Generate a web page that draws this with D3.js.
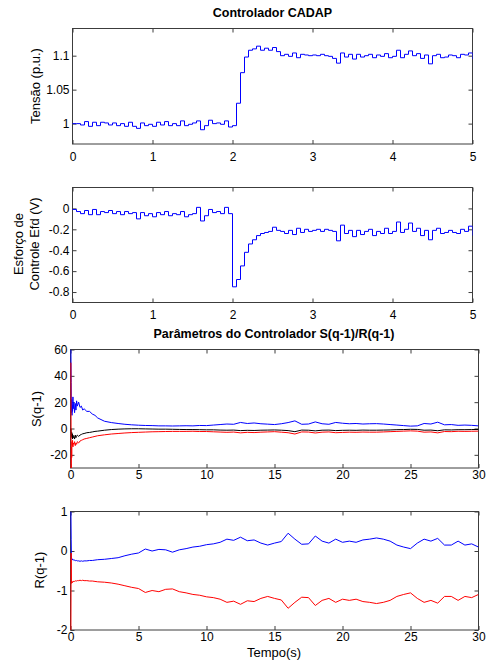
<!DOCTYPE html>
<html>
<head>
<meta charset="utf-8">
<script src="https://cdn.jsdelivr.net/npm/d3@7"></script>
<style>
    body { margin: 0; background: #fff; }
    text { font-family: "Liberation Sans", Arial, sans-serif; fill: #000; }
    .frame { fill: none; stroke: #3c3c3c; stroke-width: 1; }
    .tick-line { stroke: #3c3c3c; stroke-width: 1; }
</style>
</head>
<body>
<div id="chart"></div>
<script>
// ---- data ----

// top two panels: time 0..5 s, one sample every 0.05 s
let tStep = [0, 0.05, 0.1, 0.15, 0.2, 0.25, 0.3, 0.35, 0.4, 0.45, 0.5, 0.55, 0.6, 0.65, 0.7, 0.75, 0.8, 0.85, 0.9, 0.95,
    1.0, 1.05, 1.1, 1.15, 1.2, 1.25, 1.3, 1.35, 1.4, 1.45, 1.5, 1.55, 1.6, 1.65, 1.7, 1.75, 1.8, 1.85, 1.9, 1.95,
    2.0, 2.05, 2.1, 2.15, 2.2, 2.25, 2.3, 2.35, 2.4, 2.45, 2.5, 2.55, 2.6, 2.65, 2.7, 2.75, 2.8, 2.85, 2.9, 2.95,
    3.0, 3.05, 3.1, 3.15, 3.2, 3.25, 3.3, 3.35, 3.4, 3.45, 3.5, 3.55, 3.6, 3.65, 3.7, 3.75, 3.8, 3.85, 3.9, 3.95,
    4.0, 4.05, 4.1, 4.15, 4.2, 4.25, 4.3, 4.35, 4.4, 4.45, 4.5, 4.55, 4.6, 4.65, 4.7, 4.75, 4.8, 4.85, 4.9, 4.95, 5.0];

let tensao = [1.000, 1.000, 0.998, 1.003, 0.996, 1.002, 0.997, 1.002, 1.001, 0.998, 1.001, 0.997, 1.000, 0.996, 1.002, 0.996, 0.993, 1.001, 0.997, 0.999,
    0.996, 1.002, 0.998, 1.003, 0.997, 1.000, 0.997, 1.004, 0.997, 0.999, 1.001, 1.004, 0.991, 0.997, 1.005, 1.000, 1.001, 0.999, 1.004, 0.995,
    0.997, 1.030, 1.075, 1.098, 1.108, 1.110, 1.114, 1.108, 1.111, 1.108, 1.112, 1.106, 1.100, 1.102, 1.099, 1.104, 1.097, 1.102, 1.101, 1.100,
    1.101, 1.100, 1.102, 1.100, 1.099, 1.096, 1.089, 1.104, 1.098, 1.102, 1.095, 1.102, 1.098, 1.100, 1.102, 1.097, 1.101, 1.099, 1.103, 1.097,
    1.099, 1.108, 1.097, 1.102, 1.107, 1.100, 1.103, 1.096, 1.101, 1.088, 1.100, 1.102, 1.097, 1.098, 1.101, 1.100, 1.097, 1.102, 1.101, 1.104, 1.095];

let efd = [-0.01, -0.03, -0.05, -0.02, -0.06, -0.01, -0.06, -0.03, -0.04, -0.02, -0.05, -0.03, -0.06, -0.03, -0.05, -0.04, -0.10, -0.04, -0.07, -0.05,
    -0.08, -0.04, -0.06, -0.03, -0.07, -0.05, -0.06, -0.03, -0.08, -0.06, -0.05, 0.01, -0.12, -0.07, -0.01, -0.04, -0.03, -0.05, 0.01, -0.05,
    -0.75, -0.68, -0.55, -0.42, -0.34, -0.30, -0.26, -0.24, -0.23, -0.22, -0.18, -0.21, -0.22, -0.24, -0.21, -0.25, -0.19, -0.23, -0.20, -0.22,
    -0.21, -0.20, -0.22, -0.20, -0.21, -0.22, -0.31, -0.16, -0.24, -0.21, -0.27, -0.21, -0.25, -0.22, -0.20, -0.26, -0.22, -0.24, -0.19, -0.24,
    -0.22, -0.13, -0.23, -0.20, -0.14, -0.22, -0.19, -0.26, -0.21, -0.30, -0.21, -0.19, -0.24, -0.23, -0.21, -0.23, -0.24, -0.20, -0.22, -0.17, -0.26];

// bottom two panels: time 0..30 s, dense at the start
let tParam = [0.03, 0.05, 0.07, 0.09, 0.11, 0.13, 0.15, 0.18, 0.2, 0.25, 0.3, 0.35, 0.4, 0.45, 0.5, 0.6, 0.7, 0.8, 0.9, 1.0,
    1.2, 1.4, 1.6, 1.8, 2.0, 2.5,
    3.0, 3.5, 4.0, 4.5, 5.0, 5.5, 6.0, 6.5, 7.0, 7.5, 8.0, 8.5, 9.0, 9.5, 10.0, 10.5, 11.0, 11.5, 12.0, 12.5,
    13.0, 13.5, 14.0, 14.5, 15.0, 15.5, 16.0, 16.5, 17.0, 17.5, 18.0, 18.5, 19.0, 19.5, 20.0, 20.5, 21.0, 21.5,
    22.0, 22.5, 23.0, 23.5, 24.0, 24.5, 25.0, 25.5, 26.0, 26.5, 27.0, 27.5, 28.0, 28.5, 29.0, 29.5, 30.0];

let sBlue = [60, 35, 12, 22, 10, 18, 13, 24, 15, 20, 12, 19, 14, 21, 17, 20, 16, 17, 14, 15,
    13, 13, 11, 10, 8, 5.5,
    4.5, 3.8, 3.2, 2.8, 2.5, 2.3, 2.2, 2.0, 2.0, 1.9, 2.0, 2.1, 2.0, 2.3, 2.2, 2.6, 3.0, 3.4, 3.2, 4.6,
    3.8, 4.2, 3.6, 3.3, 3.0, 3.6, 4.5, 5.8, 3.2, 3.4, 5.0, 3.6, 3.2, 4.6, 4.0, 3.6, 3.8, 3.4,
    3.6, 3.7, 3.4, 3.0, 2.6, 2.2, 1.8, 2.0, 3.8, 3.4, 4.8, 2.8, 3.0, 2.4, 2.6, 2.4, 2.0];

let sBlack = [0, -2, -6, -3, -7, -4, -8, -5, -7, -6, -8, -5, -7, -6, -5, -6, -5, -4.5, -4, -3.8,
    -3.2, -3, -2.6, -2.2, -2, -1.3,
    -0.8, -0.5, -0.3, -0.2, -0.2, -0.3, -0.4, -0.5, -0.5, -0.6, -0.7, -0.8, -0.8, -0.9, -1.0, -1.0, -1.2, -1.3, -1.2, -1.6,
    -1.4, -1.5, -1.3, -1.2, -1.1, -1.3, -1.6, -2.4, -1.2, -1.3, -1.8, -1.3, -1.2, -1.6, -1.4, -1.3, -1.4, -1.2,
    -1.3, -1.3, -1.2, -1.1, -0.9, -0.8, -0.6, -0.7, -1.3, -1.2, -1.7, -1.0, -1.1, -0.9, -0.9, -0.8, -0.7];

let sRed = [50, -30, -14, -22, -10, -13, -9, -14, -11, -12, -10, -13, -11, -12, -10, -11, -9.5, -9, -8.5, -8,
    -7.5, -7, -6.5, -6, -5.5, -4.8,
    -4.2, -3.8, -3.4, -3.1, -2.9, -2.7, -2.5, -2.4, -2.3, -2.2, -2.2, -2.2, -2.1, -2.3, -2.3, -2.5, -2.7, -2.9, -2.7, -3.3,
    -2.9, -3.1, -2.8, -2.6, -2.4, -2.8, -3.2, -4.2, -2.6, -2.7, -3.4, -2.8, -2.6, -3.2, -3.0, -2.8, -2.9, -2.7,
    -2.8, -2.8, -2.6, -2.4, -2.2, -2.0, -1.8, -2.0, -2.8, -2.6, -3.3, -2.3, -2.4, -2.1, -2.2, -2.1, -2.0];

let rBlue = [1.0, 0.3, -0.18, -0.2, -0.2, -0.22, -0.2, -0.23, -0.22, -0.24, -0.23, -0.24, -0.25, -0.24, -0.25, -0.25, -0.26, -0.25, -0.26, -0.25,
    -0.25, -0.24, -0.24, -0.23, -0.22, -0.21,
    -0.19, -0.17, -0.12, -0.08, -0.05, 0.05, 0.0, 0.04, 0.03, -0.03, 0.03, 0.06, 0.1, 0.12, 0.16, 0.18, 0.22, 0.3, 0.27, 0.35,
    0.26, 0.28, 0.2, 0.15, 0.2, 0.24, 0.45, 0.3, 0.17, 0.18, 0.38, 0.25, 0.2, 0.3, 0.22, 0.25, 0.22, 0.28,
    0.3, 0.33, 0.3, 0.25, 0.15, 0.1, 0.06, 0.2, 0.3, 0.25, 0.32, 0.15, 0.15, 0.25, 0.15, 0.18, 0.1];

let rRed = [-2.0, -0.05, -0.82, -0.8, -0.79, -0.78, -0.8, -0.77, -0.78, -0.76, -0.77, -0.76, -0.75, -0.76, -0.75, -0.75, -0.74, -0.75, -0.74, -0.75,
    -0.75, -0.76, -0.76, -0.77, -0.78, -0.79,
    -0.81, -0.84, -0.88, -0.92, -0.95, -1.05, -1.0, -1.03, -0.97, -0.96, -1.03, -1.06, -1.1, -1.12, -1.16, -1.18, -1.22, -1.3, -1.27, -1.35,
    -1.26, -1.28, -1.2, -1.15, -1.2, -1.24, -1.45, -1.3, -1.17, -1.18, -1.38, -1.25, -1.2, -1.3, -1.22, -1.25, -1.22, -1.28,
    -1.3, -1.33, -1.3, -1.25, -1.15, -1.1, -1.06, -1.2, -1.3, -1.25, -1.32, -1.15, -1.15, -1.25, -1.15, -1.18, -1.1];

let ticksX1 = [0, 1, 2, 3, 4, 5];
let ticksX2 = [0, 5, 10, 15, 20, 25, 30];
let ticksTensao = [1, 1.05, 1.1];
let ticksEfd = [0, -0.2, -0.4, -0.6, -0.8];
let ticksS = [-20, 0, 20, 40, 60];
let ticksR = [-2, -1, 0, 1];

// ---- drawing ----
let width = 488, height = 666;
let svg = d3.select("#chart").append("svg")
    .attr("width", width)
    .attr("height", height);

let panelId = 0;

/**
 * Draws one MATLAB-like box axis with inward ticks on all four sides
 * xPad / yPad: gap between the frame and the tick labels
 */
function drawPanel(box, xDomain, yDomain, xTicks, yTicks, series, curve, xPad, yPad) {
    panelId++;
    let x = d3.scaleLinear().domain(xDomain).range([box.left, box.right]);
    let y = d3.scaleLinear().domain(yDomain).range([box.bottom, box.top]);
    let g = svg.append("g");

    // axes: bottom/left carry labels, top/right only ticks (all inward)
    let tl = 4;
    let fmt = d => String(d);
    g.append("g").attr("transform", `translate(0,${box.bottom})`)
        .call(d3.axisBottom(x).tickValues(xTicks).tickSize(-tl).tickPadding(xPad).tickFormat(fmt));
    g.append("g").attr("transform", `translate(0,${box.top})`)
        .call(d3.axisTop(x).tickValues(xTicks).tickSize(-tl).tickFormat(""));
    g.append("g").attr("transform", `translate(${box.left},0)`)
        .call(d3.axisLeft(y).tickValues(yTicks).tickSize(-tl).tickPadding(yPad).tickFormat(fmt));
    g.append("g").attr("transform", `translate(${box.right},0)`)
        .call(d3.axisRight(y).tickValues(yTicks).tickSize(-tl).tickFormat(""));

    g.selectAll(".domain").remove();
    g.selectAll(".tick line").attr("class", "tick-line");
    g.selectAll(".tick text")
        .style("font-size", "12px")
        .style("font-family", "'Liberation Sans', Arial, sans-serif")
        .attr("fill", "#000");

    g.append("rect").attr("class", "frame")
        .attr("x", box.left).attr("y", box.top)
        .attr("width", box.right - box.left).attr("height", box.bottom - box.top);

    // lines go on top of the frame, like matlab does
    g.append("clipPath").attr("id", "clip" + panelId)
        .append("rect")
        .attr("x", box.left - 1).attr("y", box.top)
        .attr("width", box.right - box.left + 1).attr("height", box.bottom - box.top);

    let line = d3.line()
        .x(d => x(d[0]))
        .y(d => y(d[1]))
        .curve(curve);

    series.forEach(s => {
        g.append("path")
            .datum(s.t.map((t, i) => [t, s.v[i]]))
            .attr("clip-path", "url(#clip" + panelId + ")")
            .attr("fill", "none")
            .attr("stroke", s.color)
            .attr("stroke-width", 1)
            .attr("d", line);
    });
}

let box1 = {left: 72.5, right: 472.5, top: 28.5, bottom: 144};
let box2 = {left: 72.5, right: 472.5, top: 187.5, bottom: 302.5};
let box3 = {left: 70.5, right: 478.5, top: 349.5, bottom: 468};
let box4 = {left: 70.5, right: 478.5, top: 511.5, bottom: 630};

drawPanel(box1, [0, 5], [0.97, 1.14], ticksX1, ticksTensao,
    [{t: tStep, v: tensao, color: "#0000ff"}], d3.curveStepAfter, 8, 3);
drawPanel(box2, [0, 5], [-0.9, 0.2], ticksX1, ticksEfd,
    [{t: tStep, v: efd, color: "#0000ff"}], d3.curveStepAfter, 8, 3);
drawPanel(box3, [0, 30], [-30, 60], ticksX2, ticksS,
    [{t: tParam, v: sBlue, color: "#0000ff"},
     {t: tParam, v: sBlack, color: "#000000"},
     {t: tParam, v: sRed, color: "#ff0000"}], d3.curveLinear, 2, 3);
drawPanel(box4, [0, 30], [-2, 1], ticksX2, ticksR,
    [{t: tParam, v: rBlue, color: "#0000ff"},
     {t: tParam, v: rRed, color: "#ff0000"}], d3.curveLinear, 2, 3);

// titles and axis labels
svg.append("text").attr("x", 272.5).attr("y", 17)
    .attr("text-anchor", "middle").style("font-size", "12.5px").style("font-weight", "bold")
    .text("Controlador CADAP");
svg.append("text").attr("x", 274).attr("y", 338)
    .attr("text-anchor", "middle").style("font-size", "12.5px").style("font-weight", "bold")
    .text("Parâmetros do Controlador S(q-1)/R(q-1)");

function yLabel(lines, cx, cy) {
    let t = svg.append("text")
        .attr("transform", `translate(${cx},${cy}) rotate(-90)`)
        .attr("text-anchor", "middle")
        .style("font-size", "13px");
    lines.forEach((s, i) => {
        t.append("tspan").attr("x", 0).attr("dy", i === 0 ? 0 : 16).text(s);
    });
}
yLabel(["Tensão (p.u.)"], 40, 86);
yLabel(["Esforço de", "Controle Efd (V)"], 23, 244);
yLabel(["S(q-1)"], 41, 409);
yLabel(["R(q-1)"], 44, 570);

svg.append("text").attr("x", 274).attr("y", 657)
    .attr("text-anchor", "middle").style("font-size", "13px")
    .text("Tempo(s)");
</script>
</body>
</html>
